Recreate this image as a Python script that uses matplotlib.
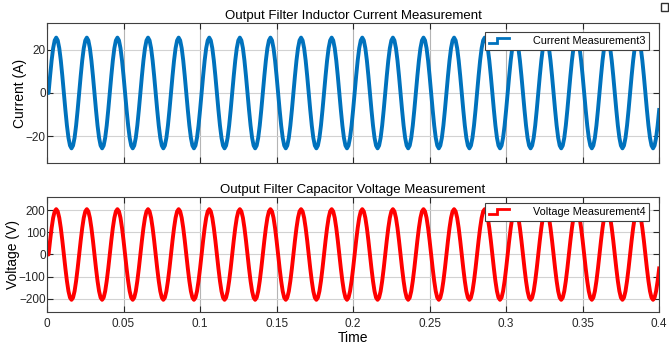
import numpy as np
import matplotlib
matplotlib.use('Agg')
import matplotlib.pyplot as plt
from matplotlib.lines import Line2D
from matplotlib.legend_handler import HandlerBase
from matplotlib.patches import Rectangle

plt.rcParams['font.family'] = ['Liberation Sans', 'DejaVu Sans']

# one period (20 ms) of each steady-state waveform at 1 ms steps
cycle_current = [-7.9, 0.0, 7.9, 15.1, 20.8, 24.4, 25.7, 24.4, 20.8, 15.1,
                 7.9, 0.0, -7.9, -15.1, -20.8, -24.4, -25.7, -24.4, -20.8, -15.1]
cycle_voltage = [-63, 0, 63, 120, 166, 195, 205, 195, 166, 120,
                 63, 0, -63, -120, -166, -195, -205, -195, -166, -120]
sample_step = 0.001
n_cycles = 20
start_current = 0.0   # trace starts from rest
start_voltage = 0.0
end_current = -7.9    # value at t = 0.4
end_voltage = -63

current_label = 'Current Measurement3'
voltage_label = 'Voltage Measurement4'
x_ticks = [0, 0.05, 0.1, 0.15, 0.2, 0.25, 0.3, 0.35, 0.4]
x_tick_labels = ['0', '0.05', '0.1', '0.15', '0.2', '0.25', '0.3', '0.35', '0.4']

# build the sampled series from the repeated periods
current = list(cycle_current) * n_cycles + [end_current]
voltage = list(cycle_voltage) * n_cycles + [end_voltage]
current[0] = start_current
voltage[0] = start_voltage
t = np.arange(len(current)) * sample_step


class StepHandler(HandlerBase):
    def create_artists(self, legend, orig_handle, xdescent, ydescent,
                       width, height, fontsize, trans):
        x0 = -xdescent
        lo = -ydescent + 0.1 * height
        hi = -ydescent + 0.8 * height
        xm = x0 + 0.4 * width
        line = Line2D([x0, xm, xm, x0 + width], [lo, lo, hi, hi],
                      color=orig_handle.get_color(), lw=2.0,
                      solid_joinstyle='miter')
        line.set_transform(trans)
        return [line]


fig = plt.figure(figsize=(6.69, 3.47), dpi=100)
ax1 = fig.add_axes([0.0703, 0.5303, 0.915, 0.4035])
ax2 = fig.add_axes([0.0703, 0.1009, 0.915, 0.3314])

l1, = ax1.plot(t, current, color='#0072BD', lw=2.8)
l2, = ax2.plot(t, voltage, color='#FF0000', lw=2.8)

for ax in (ax1, ax2):
    ax.set_xlim(0, 0.4)
    ax.set_xticks(x_ticks)
    ax.tick_params(direction='in', length=4, width=0.8, colors='#262626',
                   labelsize=8.5, top=True, right=True, pad=1)
    ax.grid(True, axis='x', color='#b4b4b4', lw=0.8)
    ax.grid(True, axis='y', color='#d2d2d2', lw=0.8)
    ax.set_axisbelow(True)
    for s in ax.spines.values():
        s.set_color('#404040')
        s.set_linewidth(0.8)

ax1.set_ylim(-32.5, 32.5)
ax1.set_yticks([-20, 0, 20])
ax1.set_xticklabels([])
ax1.set_ylabel('Current (A)', fontsize=10)
ax1.yaxis.set_label_coords(-0.0327, 0.5)
ax1.set_title('Output Filter Inductor Current Measurement', fontsize=9.5, pad=3)

ax2.set_ylim(-260, 260)
ax2.set_yticks([-200, -100, 0, 100, 200])
ax2.set_xticklabels(x_tick_labels)
ax2.tick_params(axis='x', pad=4)
ax2.set_ylabel('Voltage (V)', fontsize=10)
ax2.yaxis.set_label_coords(-0.0441, 0.5)
ax2.set_xlabel('Time', fontsize=10, labelpad=1)
ax2.set_title('Output Filter Capacitor Voltage Measurement', fontsize=9.5, pad=3)

for ax, ln, lab, top in ((ax1, l1, current_label, 0.936), (ax2, l2, voltage_label, 0.945)):
    leg = ax.legend([ln], [lab], loc='upper right', bbox_to_anchor=(0.984, top),
                    handler_map={Line2D: StepHandler()}, fontsize=7.8,
                    fancybox=False, framealpha=1, edgecolor='#404040',
                    handlelength=1.85, handletextpad=2.2, borderpad=0.35,
                    borderaxespad=0)
    leg.get_frame().set_linewidth(0.8)

# little undock icon in the top-right corner of the scope window
fig.patches.append(Rectangle((661 / 669, 1 - 11 / 347), 7 / 669, 8 / 347,
                             transform=fig.transFigure, fill=False,
                             edgecolor='#303030', lw=1.0))

fig.savefig('out.png', dpi=100)
